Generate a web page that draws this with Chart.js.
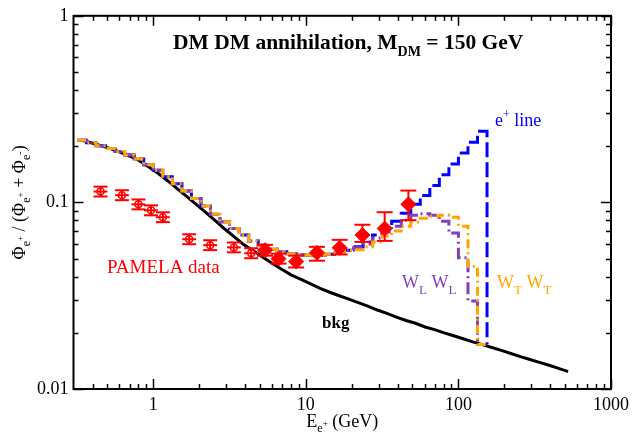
<!DOCTYPE html>
<html><head><meta charset="utf-8">
<script src="https://cdn.jsdelivr.net/npm/chart.js@4/dist/chart.umd.min.js"></script>
<style>html,body{margin:0;padding:0;background:#fff}#wrap{width:634px;height:432px}</style>
</head><body><div id="wrap"><canvas id="c" width="634" height="432"></canvas></div>
<script>
// ---- data ----
const binEdges = [0.3162,0.3652,0.4217,0.4870,0.5623,0.6494,0.7499,0.8660,1.000,1.155,1.334,1.540,1.778,2.054,2.371,2.738,3.162,3.652,4.217,4.870,5.623,6.494,7.499,8.660,10.00,11.55,13.34,15.40,17.78,20.54,23.71,27.38,31.62,36.52,42.17,48.70,56.23,64.94,74.99,86.60,100.0,115.5,133.4,154.0,177.8,205.4,237.1,273.8,316.2,365.2,421.7,487.0,562.3];
const bkg = [0.2154,0.2089,0.2014,0.1942,0.1862,0.1773,0.1679,0.1550,0.1432,0.1307,0.1186,0.1076,0.0976,0.0885,0.0798,0.0720,0.0653,0.0592,0.0550,0.0508,0.0470,0.0437,0.0408,0.0387,0.0366,0.0346,0.0330,0.0316,0.0303,0.0290,0.0278,0.0265,0.0254,0.0243,0.0233,0.0225,0.0215,0.0208,0.0200,0.0193,0.0186,0.0179,0.0173,0.0167,0.0161,0.0155,0.0149,0.0144,0.0139,0.0134,0.0129,0.0124];
const signalLowE = [0.2154,0.2089,0.2014,0.1942,0.1873,0.1795,0.1709,0.1589,0.1486,0.1373,0.1260,0.1150,0.1050,0.0958,0.0864,0.0788,0.0724,0.0669,0.0622,0.0589,0.0561,0.0544,0.0531,0.0524,0.0521,0.0521,0.0528,0.0537,0.0554];
const eLineHighE = [0.0578,0.0614,0.0669,0.0729,0.0793,0.0875,0.0976,0.1089,0.1230,0.1406,0.1608,0.1839,0.2102,0.2404];
const wlHighE = [0.0571,0.0599,0.0645,0.0694,0.0746,0.0803,0.0853,0.0869,0.0853,0.0793,0.0685,0.0505,0.0296];
const wtHighE = [0.0557,0.0578,0.0614,0.0661,0.0702,0.0746,0.0784,0.0823,0.0843,0.0853,0.0833,0.0746,0.0453,0.0173];

const pamOldE = [0.451,0.623,0.799,0.966,1.156,1.719,2.359,3.375,4.381];
const pamOldR = [0.1143,0.1093,0.0976,0.0907,0.0833,0.0635,0.0590,0.0574,0.0534];
const pamOldHi = [0.1215,0.1162,0.1037,0.0964,0.0885,0.0675,0.0627,0.0610,0.0568];
const pamOldLo = [0.1075,0.1028,0.0918,0.0853,0.0784,0.0597,0.0555,0.0540,0.0502];
const pamOldEmin = [0.406,0.561,0.720,0.870,1.041,1.549,2.125,3.041,3.947];
const pamOldEmax = [0.501,0.692,0.887,1.072,1.283,1.908,2.618,3.746,4.863];

const pamE = [5.40,6.62,8.64,11.82,16.66,23.49,32.86,47.0];
const pamR = [0.0554,0.0499,0.0482,0.0537,0.0571,0.0669,0.0724,0.0976];
const pamHi = [0.0592,0.0531,0.0518,0.0578,0.0630,0.0759,0.0886,0.1157];
const pamLo = [0.0518,0.0470,0.0448,0.0487,0.0526,0.0614,0.0622,0.0803];

const xTickVals = [1,10,100,1000];
const xMinorVals = [0.4,0.5,0.6,0.7,0.8,0.9,2,3,4,5,6,7,8,9,20,30,40,50,60,70,80,90,200,300,400,500,600,700,800,900];
const yTickVals = [0.01,0.1,1];
const yMinorVals = [0.02,0.03,0.04,0.05,0.06,0.07,0.08,0.09,0.2,0.3,0.4,0.5,0.6,0.7,0.8,0.9];

// ---- build ----
const eLine = signalLowE.concat(eLineHighE);
const wlwl = signalLowE.concat(wlHighE);
const wtwt = signalLowE.concat(wtHighE);
function steps(vals, closeVal) {
  const pts = vals.map((v, k) => ({x: binEdges[k], y: v}));
  pts.push({x: binEdges[vals.length], y: closeVal === undefined ? vals[vals.length - 1] : closeVal});
  return pts;
}
function centers(vals) {
  return vals.map((v, k) => ({x: Math.sqrt(binEdges[k] * binEdges[k + 1]), y: v}));
}
const RED = '#ff0000', BLUE = '#0000ff', PURPLE = '#7f3fbf', ORANGE = '#ffa500';
const FAM = "'Liberation Serif','Times New Roman',serif";

function rich(ctx, x, y, parts, weight, color, measureOnly) {
  let cx = x;
  ctx.fillStyle = color;
  ctx.textBaseline = 'alphabetic';
  ctx.textAlign = 'left';
  for (const p of parts) {
    ctx.font = `${weight} ${p.s}px ${FAM}`;
    if (!measureOnly) ctx.fillText(p.t, cx, y + (p.dy || 0));
    cx += ctx.measureText(p.t).width + (p.adv || 0);
  }
  return cx - x;
}

const overlay = {
  id: 'overlay',
  afterDatasetsDraw(chart) {
    const {ctx, scales: {x, y}} = chart;
    ctx.save();
    ctx.strokeStyle = RED;
    ctx.lineWidth = 2;
    const ln = (a, b, c, d) => { ctx.beginPath(); ctx.moveTo(a, b); ctx.lineTo(c, d); ctx.stroke(); };
    pamOldE.forEach((e, i) => {
      const px = x.getPixelForValue(e), py = y.getPixelForValue(pamOldR[i]);
      const yl = y.getPixelForValue(pamOldLo[i]), yh = y.getPixelForValue(pamOldHi[i]);
      const xl = x.getPixelForValue(pamOldEmin[i]), xh = x.getPixelForValue(pamOldEmax[i]);
      const cap = 7;
      ln(px, yl, px, yh); ln(px - cap, yl, px + cap, yl); ln(px - cap, yh, px + cap, yh);
      ln(xl, py, xh, py);
    });
    pamE.forEach((e, i) => {
      const px = x.getPixelForValue(e);
      const yl = y.getPixelForValue(pamLo[i]), yh = y.getPixelForValue(pamHi[i]);
      const cap = 8;
      ln(px, yl, px, yh); ln(px - cap, yl, px + cap, yl); ln(px - cap, yh, px + cap, yh);
    });
    ctx.restore();
  },
  afterDraw(chart) {
    const {ctx, chartArea: a, scales: {x, y}} = chart;
    ctx.save();
    ctx.strokeStyle = '#000';
    ctx.lineWidth = 2;
    ctx.strokeRect(a.left, a.top, a.right - a.left, a.bottom - a.top);
    ctx.lineWidth = 1.5;
    const ln = (p, q, r, s) => { ctx.beginPath(); ctx.moveTo(p, q); ctx.lineTo(r, s); ctx.stroke(); };
    xTickVals.concat(xMinorVals).forEach(v => {
      const L = xTickVals.includes(v) ? 10 : 5;
      const px = Math.round(x.getPixelForValue(v)) + 0.5;
      ln(px, a.bottom, px, a.bottom - L);
      ln(px, a.top, px, a.top + L);
    });
    yTickVals.concat(yMinorVals).forEach(v => {
      const L = yTickVals.includes(v) ? 10 : 5;
      const py = Math.round(y.getPixelForValue(v)) + 0.5;
      ln(a.left, py, a.left + L, py);
      ln(a.right, py, a.right - L, py);
    });
    rich(ctx, 173, 49, [
      {t: 'DM DM annihilation, M', s: 21.5},
      {t: 'DM', s: 14, dy: 7},
      {t: ' = 150 GeV', s: 21.5}
    ], 'bold', '#000');
    rich(ctx, 495, 126, [
      {t: 'e', s: 18}, {t: '+', s: 12, dy: -8}, {t: ' line', s: 18}
    ], 'normal', BLUE);
    rich(ctx, 107, 273, [{t: 'PAMELA data', s: 19}], 'normal', RED);
    rich(ctx, 322, 328, [{t: 'bkg', s: 17}], 'bold', '#000');
    rich(ctx, 402, 288, [
      {t: 'W', s: 18}, {t: 'L', s: 13, dy: 6}, {t: ' W', s: 18}, {t: 'L', s: 13, dy: 6}
    ], 'normal', PURPLE);
    rich(ctx, 497, 288, [
      {t: 'W', s: 18}, {t: 'T', s: 13, dy: 6}, {t: ' W', s: 18}, {t: 'T', s: 13, dy: 6}
    ], 'normal', ORANGE);
    const xParts = [{t: 'E', s: 18}, {t: 'e', s: 12, dy: 5}, {t: '+', s: 9, dy: -1}, {t: ' (GeV)', s: 18}];
    const xw = rich(ctx, 0, 0, xParts, 'normal', '#000', true);
    rich(ctx, (a.left + a.right) / 2 - xw / 2, 427, xParts, 'normal', '#000');
    const yParts = [
      {t: 'Φ', s: 18}, {t: 'e', s: 12, dy: 5}, {t: '+', s: 9, dy: -2},
      {t: ' / (', s: 18},
      {t: 'Φ', s: 18}, {t: 'e', s: 12, dy: 5}, {t: '+', s: 9, dy: -2},
      {t: ' + ', s: 18},
      {t: 'Φ', s: 18}, {t: 'e', s: 12, dy: 5}, {t: '-', s: 10, dy: -2},
      {t: ')', s: 18}
    ];
    const yw = rich(ctx, 0, 0, yParts, 'normal', '#000', true);
    ctx.translate(25, (a.top + a.bottom) / 2);
    ctx.rotate(-Math.PI / 2);
    rich(ctx, -yw / 2, 0, yParts, 'normal', '#000');
    ctx.restore();
  }
};

Chart.defaults.font.family = FAM;
const lineDs = (label, data, color, dash, order, stepped) => ({
  label, data, showLine: true, stepped, borderColor: color, backgroundColor: color,
  borderWidth: 3, borderDash: dash, pointRadius: 0, pointHoverRadius: 0, order, borderCapStyle: 'butt'
});

new Chart(document.getElementById('c'), {
  type: 'scatter',
  data: {
    datasets: [
      {label: 'PAMELA (low E)', data: pamOldE.map((e, i) => ({x: e, y: pamOldR[i]})), pointStyle: 'circle',
        pointRadius: 3.5, borderColor: RED, backgroundColor: '#fff', borderWidth: 1.5, order: 1},
      {label: 'PAMELA', data: pamE.map((e, i) => ({x: e, y: pamR[i]})), pointStyle: 'rectRot',
        pointRadius: 7.5, borderColor: RED, backgroundColor: RED, borderWidth: 1, order: 0},
      lineDs('W_T W_T', steps(wtwt), ORANGE, [9, 4, 2, 4], 2, 'before'),
      lineDs('W_L W_L', steps(wlwl, bkg[41]), PURPLE, [12, 4, 2, 4], 3, 'before'),
      lineDs('e+ line', steps(eLine, bkg[42]), BLUE, [15, 5], 4, 'before'),
      lineDs('bkg', centers(bkg), '#000', [], 5, false)
    ]
  },
  options: {
    responsive: false, animation: false, devicePixelRatio: 1,
    layout: {padding: {left: 0, right: 20, top: 11, bottom: 0}},
    plugins: {legend: {display: false}, tooltip: {enabled: false}},
    scales: {
      x: {
        type: 'logarithmic', min: 0.3162, max: 1000,
        grid: {display: false, drawTicks: false, tickLength: 0}, border: {display: false},
        afterBuildTicks: s => { s.ticks = xTickVals.map(v => ({value: v})); },
        afterFit: s => { s.height = 43; },
        ticks: {autoSkip: false, maxRotation: 0, color: '#000', font: {size: 18}, padding: 5,
          callback: v => String(v)}
      },
      y: {
        type: 'logarithmic', min: 0.01, max: 1,
        grid: {display: false, drawTicks: false, tickLength: 0}, border: {display: false},
        afterBuildTicks: s => { s.ticks = yTickVals.map(v => ({value: v})); },
        afterFit: s => { s.width = 73.5; },
        ticks: {autoSkip: false, color: '#000', font: {size: 18}, padding: 5,
          callback: v => String(v)}
      }
    }
  },
  plugins: [overlay]
});
</script>
</body></html>
